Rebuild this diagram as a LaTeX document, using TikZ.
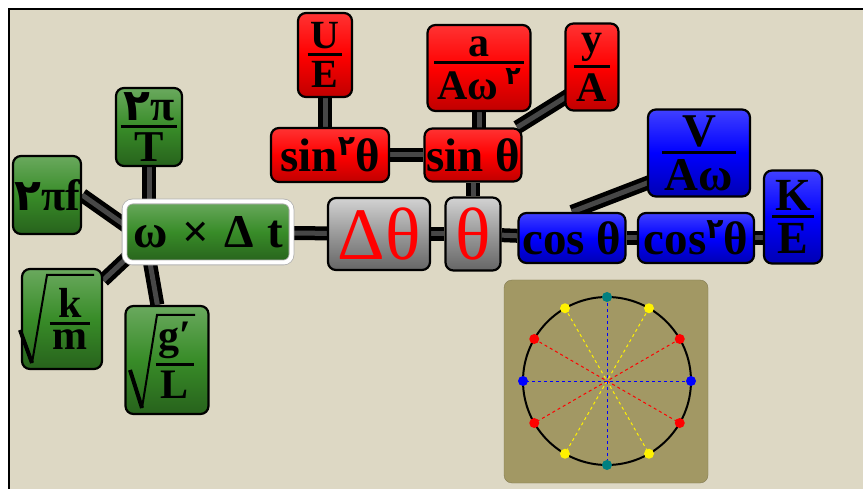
\documentclass[tikz,border=0pt]{standalone}
\usepackage{fontspec}
\setmainfont{Liberation Serif}
\newfontfamily\fadig{DejaVu Sans}
\usepackage{graphicx}
\usetikzlibrary{calc}
\pgfdeclarelayer{back}
\pgfdeclarelayer{tubes}
\pgfsetlayers{back,tubes,main}
\definecolor{paper}{RGB}{221,216,196}
\definecolor{leaf}{RGB}{56,140,40}
\definecolor{khaki}{RGB}{162,152,100}
\newcommand{\frc}[2]{\vbox{\offinterlineskip\halign{\hfil\kern3pt##\kern3pt\hfil\cr #1\cr\noalign{\kern4pt\hrule height 3pt\kern5pt}#2\cr}}}
\newcommand{\two}{{\fadig\bfseries ۲}}
\newcommand{\twoup}{\raisebox{0.35em}{\scalebox{0.6}{\two}}}
\newcommand{\sz}[1]{\fontsize{#1}{#1}\selectfont}

\begin{document}
\begin{tikzpicture}[x=1pt,y=-1pt]
    \tikzset{box/.style={draw=black, line width=2.2pt, rounded corners=8pt, align=center, inner sep=1pt, font=\bfseries\sz{47}},
        redbox/.style={box, top color=red!80!white, bottom color=red!75!black, middle color=red},
        bluebox/.style={box, top color=blue!75!white, bottom color=blue!70!black, middle color=blue},
        greenbox/.style={box, top color=leaf!75!white, bottom color=leaf!70!black, middle color=leaf},
        graybox/.style={box, top color=gray!35, bottom color=gray!80!black, middle color=gray!80, text=red, font=\sz{74}},
        tube/.style={line width=14pt, draw=black, postaction={draw=black!72, line width=5pt}}}
    \useasboundingbox (0,0) rectangle (863,489);
    \begin{pgfonlayer}{back}
        \fill[paper] (9,9) rectangle (863,489);
        \draw[line width=2.5pt] (9,489) -- (9,9) -- (863,9);
    \end{pgfonlayer}
    % red branch
    \node[redbox, minimum width=54pt, minimum height=84pt, font=\bfseries\sz{40}] (ue) at (325,55) {\frc{U}{E}};
    \node[redbox, minimum width=103pt, minimum height=86pt, font=\bfseries\sz{42}] (aw) at (479,68) {\frc{a}{Aω\,\twoup}};
    \node[redbox, minimum width=53pt, minimum height=87pt, font=\bfseries\sz{42}] (ya) at (592,67) {\frc{y}{A}};
    \node[redbox, minimum width=118pt, minimum height=54pt] (s2) at (330,155) {sin\twoup θ};
    \node[redbox, minimum width=97pt, minimum height=53pt] (sin) at (473,155) {sin θ};
    % green branch
    \node[greenbox, minimum width=66pt, minimum height=78pt, font=\bfseries\sz{44}] (p2T) at (149,127) {\frc{\two π}{T}};
    \node[greenbox, minimum width=68pt, minimum height=78pt, font=\bfseries\sz{44}] (p2f) at (47,195) {\two πf};
    \node[greenbox, minimum width=167pt, minimum height=61pt, draw=gray!60, line width=0.8pt, double=white, double distance=4pt] (om) at (208,232) {ω\hspace{0.32em}×\hspace{0.32em}Δ\hspace{0.28em}t};
    \node[greenbox, minimum width=80pt, minimum height=100pt, font=\bfseries\sz{42}] (km) at (62,319) {\hspace*{16pt}\frc{k}{m}};
    \node[greenbox, minimum width=83pt, minimum height=108pt, font=\bfseries\sz{42}] (gl) at (167,360) {\hspace*{16pt}\frc{g′}{L}};
    % middle
    \node[graybox, minimum width=102pt, minimum height=72pt] (dth) at (379,234) {Δθ};
    \node[graybox, minimum width=55pt, minimum height=73pt] (th) at (473,234) {θ};
    % blue branch
    \node[bluebox, minimum width=107pt, minimum height=50pt] (cos) at (572,238) {cos θ};
    \node[bluebox, minimum width=116pt, minimum height=50pt] (cos2) at (696,238) {cos\twoup θ};
    \node[bluebox, minimum width=102pt, minimum height=87pt, font=\bfseries\sz{47}] (vaw) at (699,153) {\frc{V}{Aω}};
    \node[bluebox, minimum width=58pt, minimum height=93pt, font=\bfseries\sz{46}] (ke) at (793,217) {\frc{K}{E}};
    % radicals
    \draw[line width=4pt] ($(km.center)+(-42,11)$) -- ($(km.center)+(-30,44)$);
    \draw[line width=2pt] ($(km.center)+(-30,44)$) -- ($(km.center)+(-15,-44)$) -- ($(km.center)+(32,-44)$);
    \draw[line width=4pt] ($(gl.center)+(-37,10)$) -- ($(gl.center)+(-25,48)$);
    \draw[line width=2pt] ($(gl.center)+(-25,48)$) -- ($(gl.center)+(-10,-45)$) -- ($(gl.center)+(28,-45)$);
    % connectors
    \coordinate (hub) at (146,240);
    \begin{pgfonlayer}{tubes}
        \draw[tube] (p2f.east) -- (hub);
        \draw[tube] (p2T) -- (p2T |- hub);
        \draw[tube] (km) -- (hub);
        \draw[tube] (gl) -- (hub);
        \draw[tube] (om) -- (dth);
        \draw[tube] (dth) -- (th);
        \draw[tube] (th) -- (cos);
        \draw[tube] (cos) -- (cos2);
        \draw[tube] (cos2) -- (cos2 -| ke);
        \draw[tube] (cos.north) -- ($(cos.north)!1.25!(vaw.210)$);
        \draw[tube] (ue) -- (ue |- s2);
        \draw[tube] (s2) -- (sin);
        \draw[tube] (aw) -- (aw |- sin);
        \draw[tube] (sin) -- (th);
        \draw[tube] (sin) -- ($(ya.south west)!0.5!(ya.center)$);
    \end{pgfonlayer}
    % unit circle panel
    \fill[khaki, rounded corners=8pt] (504,280) rectangle (708,483);
    \draw[khaki!80!black, rounded corners=8pt] (504,280) rectangle (708,483);
    \coordinate (o) at (607,381);
    \foreach \a/\c in {30/red, 150/red, 60/yellow, 120/yellow, 0/blue, 90/blue}
        \draw[dashed, line width=1pt, \c] ($(o)+(\a:84pt)$) -- ($(o)+(\a+180:84pt)$);
    \draw[line width=2pt] (o) circle[radius=84pt];
    \foreach \a/\c in {0/blue, 180/blue, 90/teal, 270/teal, 30/red, 150/red, 210/red, 330/red, 60/yellow, 120/yellow, 240/yellow, 300/yellow}
        \fill[\c] ($(o)+(\a:84pt)$) circle[radius=5pt];
\end{tikzpicture}
\end{document}
